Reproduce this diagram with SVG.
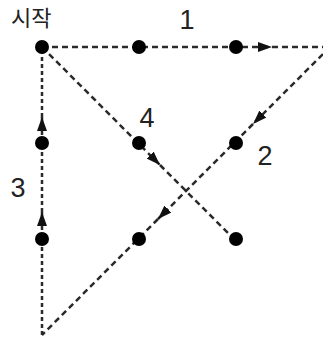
<svg xmlns="http://www.w3.org/2000/svg" width="323" height="344" viewBox="0 0 323 344">
<style>
.ln{fill:none;stroke:#2a2a2a;stroke-width:2.5;stroke-dasharray:6 4}
.lv{fill:none;stroke:#2a2a2a;stroke-width:2.5;stroke-dasharray:4 3}
.dot{fill:#000}
.num{font-family:"Liberation Sans",Arial,sans-serif;font-size:27px;fill:#222;text-anchor:middle}
.kr{font-family:"Noto Sans CJK KR","Liberation Sans",sans-serif;font-size:22px;fill:#222}
</style>
<defs>
<marker id="ah" markerUnits="userSpaceOnUse" markerWidth="14" markerHeight="10" refX="14" refY="5" orient="auto" viewBox="0 0 14 10">
<path d="M0,0 L14,5 L0,10 z" fill="#111"/>
</marker>
</defs>
<rect width="323" height="344" fill="#fff"/>
<g id="connectors">
<line class="ln" x1="42" y1="47" x2="272" y2="47" marker-end="url(#ah)"/>
<line class="ln" x1="272" y1="47" x2="330" y2="47"/>
<line class="ln" x1="330" y1="47" x2="253" y2="124" marker-end="url(#ah)"/>
<line class="ln" x1="253" y1="124" x2="158" y2="219" marker-end="url(#ah)"/>
<line class="ln" x1="158" y1="219" x2="42" y2="335"/>
<line class="lv" x1="42" y1="335" x2="42" y2="212" marker-end="url(#ah)"/>
<line class="lv" x1="42" y1="212" x2="42" y2="117" marker-end="url(#ah)"/>
<line class="lv" x1="42" y1="117" x2="42" y2="47"/>
<line class="ln" x1="42" y1="47" x2="160" y2="165" marker-end="url(#ah)"/>
<line class="ln" x1="160" y1="165" x2="236" y2="241"/>
</g>
<g id="n11"><circle class="dot" cx="42" cy="47" r="7"/></g>
<g id="n12"><circle class="dot" cx="139" cy="47" r="7"/></g>
<g id="n13"><circle class="dot" cx="236" cy="47" r="7"/></g>
<g id="n21"><circle class="dot" cx="42" cy="143" r="7"/></g>
<g id="n22"><circle class="dot" cx="139" cy="143" r="7"/></g>
<g id="n23"><circle class="dot" cx="236" cy="143" r="7"/></g>
<g id="n31"><circle class="dot" cx="42" cy="239" r="7"/></g>
<g id="n32"><circle class="dot" cx="139" cy="239" r="7"/></g>
<g id="n33"><circle class="dot" cx="236" cy="239" r="7"/></g>
<g id="labels">
<text class="kr" x="11" y="26">시작</text>
<text class="num" x="187" y="29">1</text>
<text class="num" x="147" y="127">4</text>
<text class="num" x="265" y="165">2</text>
<text class="num" x="18" y="197">3</text>
</g>
</svg>
